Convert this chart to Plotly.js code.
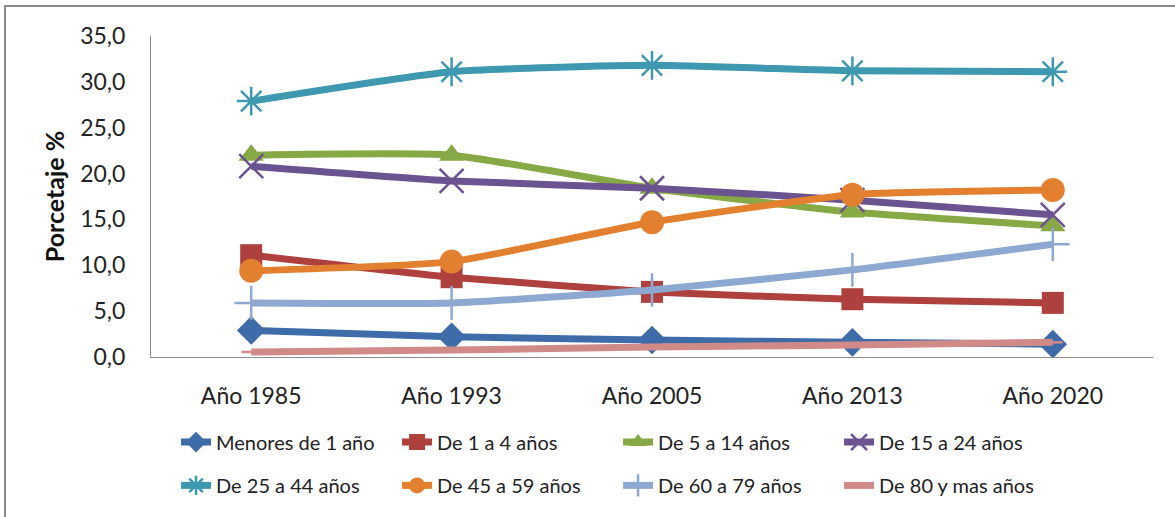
<!DOCTYPE html>
<html>
<head>
<meta charset="utf-8">
<script src="https://cdn.plot.ly/plotly-3.0.1.min.js"></script>
<style>
  html, body { margin: 0; padding: 0; background: #fff; }
  #wrap { position: relative; width: 1175px; height: 517px; }
  #frame { position: absolute; left: 4px; top: 5px; right: -10px; bottom: -10px;
           border-top: 2px solid #8a8a8a; border-left: 2px solid #8a8a8a; pointer-events: none; z-index: 5; }
  #chart { position: absolute; left: 0; top: 0; width: 1175px; height: 517px; }
</style>
</head>
<body>
<div id="wrap"><div id="chart"></div><div id="frame"></div></div>
<script>
const categories = ["Año 1985", "Año 1993", "Año 2005", "Año 2013", "Año 2020"];
const seriesNames = ["Menores de 1 año", "De 1 a 4 años", "De 5 a 14 años", "De 15 a 24 años",
                     "De 25 a 44 años", "De 45 a 59 años", "De 60 a 79 años", "De 80 y mas años"];
const menores1 = [2.9, 2.2, 1.85, 1.6, 1.4];
const de1a4    = [11.1, 8.7, 7.1, 6.3, 5.9];
const de5a14   = [22.0, 22.0, 18.4, 15.8, 14.3];
const de15a24  = [20.8, 19.2, 18.4, 17.1, 15.5];
const de25a44  = [27.9, 31.1, 31.8, 31.2, 31.1];
const de45a59  = [9.4, 10.4, 14.7, 17.7, 18.2];
const de60a79  = [5.9, 5.9, 7.3, 9.5, 12.3];
const de80mas  = [0.55, 0.75, 1.1, 1.3, 1.6];
const yTitle = "Porcetaje %";

const values = [menores1, de1a4, de5a14, de15a24, de25a44, de45a59, de60a79, de80mas];
const colors = ["#3D6CA8", "#AE403D", "#86A845", "#6B5290", "#3E98B0", "#E2802F", "#8EA9D1", "#D08B89"];
const symbols = ["diamond", "square", "triangle-up", "x-thin-open", "asterisk-open", "circle", "cross-thin-open", "line-ew-open"];
const msizes = [22, 22, 22, 24, 24, 24, 24, 14];

const traces = values.map((v, i) => {
  const open = symbols[i].endsWith("open");
  return {
    type: "scatter", mode: "lines+markers",
    x: categories, y: v, name: seriesNames[i],
    legend: i < 4 ? "legend" : "legend2",
    line: { color: colors[i], width: 7, shape: "spline", smoothing: 0.5 },
    marker: {
      symbol: symbols[i], size: msizes[i], color: colors[i],
      line: { color: colors[i], width: open ? 2.5 : 0 }
    },
    cliponaxis: false
  };
});

const legendCommon = {
  orientation: "h", xref: "paper", yref: "paper", xanchor: "left", yanchor: "middle",
  entrywidth: 176, entrywidthmode: "pixels",
  font: { family: "Lato, 'Open Sans', sans-serif", size: 20, color: "#222" },
  bgcolor: "rgba(0,0,0,0)", borderwidth: 0, itemclick: false
};

const layout = {
  width: 1175, height: 517,
  margin: { l: 151, r: 22, t: 36, b: 160 },
  paper_bgcolor: "#fff", plot_bgcolor: "#fff",
  separators: ",.",
  showlegend: true,
  font: { family: "Lato, 'Open Sans', sans-serif", color: "#222" },
  xaxis: {
    type: "category", range: [-0.5, 4.5],
    showgrid: false, zeroline: false, showline: true, linecolor: "#8c8c8c", linewidth: 1,
    ticks: "", ticklabelstandoff: 18,
    tickfont: { family: "Lato, 'Open Sans', sans-serif", size: 23, color: "#222" }
  },
  yaxis: {
    range: [0, 35], dtick: 5, tickformat: ".1f",
    showgrid: false, zeroline: false, showline: true, linecolor: "#8c8c8c", linewidth: 1,
    ticks: "", ticklabelstandoff: 20,
    tickfont: { family: "Lato, 'Open Sans', sans-serif", size: 23, color: "#222" },
    title: { text: yTitle, standoff: 8, font: { family: "Lato, 'Open Sans', sans-serif", size: 25, color: "#111", weight: "bold" } }
  },
  legend: Object.assign({}, legendCommon, { x: 0.025, y: -0.265 }),
  legend2: Object.assign({}, legendCommon, { x: 0.025, y: -0.40 })
};

Plotly.newPlot("chart", traces, layout, { displayModeBar: false, staticPlot: true });
</script>
</body>
</html>
